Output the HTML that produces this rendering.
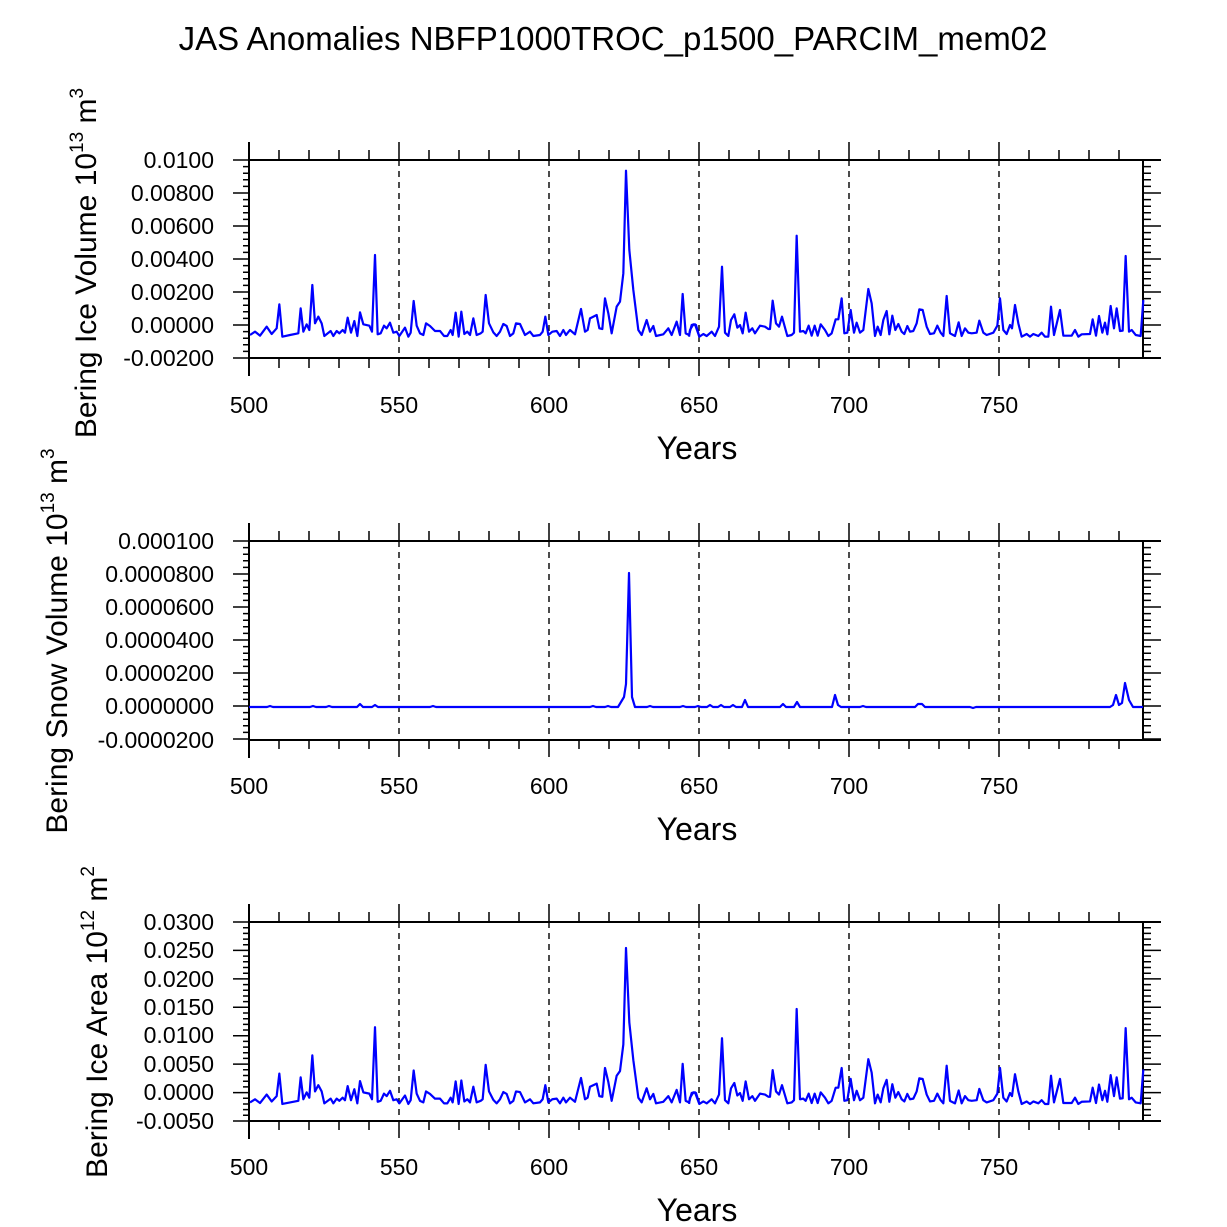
<!DOCTYPE html>
<html><head><meta charset="utf-8"><style>
html,body{margin:0;padding:0;background:#fff;}
svg{display:block;font-family:"Liberation Sans",sans-serif;}
</style></head><body>
<svg width="1227" height="1227" viewBox="0 0 1227 1227" xmlns="http://www.w3.org/2000/svg">
<defs>
<g id="series1" fill="none" stroke="#0000ff" stroke-width="2.2" stroke-linejoin="round">
<polyline vector-effect="non-scaling-stroke" transform="translate(240,150) scale(0.33333)" points="30,555 45,545 60,557 80,530 95,552 110,535 118,463 127,560 150,555 175,550 182,475 190,545 200,523 208,540 217,405 225,520 235,500 245,520 253,558 272,543 280,558 290,543 298,550 308,540 315,548 323,503 333,548 343,513 352,558 360,487 370,523 388,527 396,545 405,315 413,553 422,550 432,527 440,535 450,518 460,548 470,545 478,558 495,533 505,560 512,548 521,453 530,527 540,550 550,555 558,520 570,528 585,543 600,543 612,558 622,558 632,540 638,555 647,488 656,560 664,485 673,552 682,545 690,555 700,505 710,555 722,550 728,545 737,435 747,520 760,547 770,558 780,545 790,522 800,528 810,558 820,550 828,520 840,522 855,555 870,545 880,558 900,555 908,545 916,500 925,555 937,545 950,543 960,558 970,540 978,555 990,540 1005,553 1023,477 1035,545 1043,540 1050,505 1070,495 1078,535 1087,537 1095,445 1105,490 1115,550 1130,470 1140,455 1150,370 1158,62 1168,300 1180,420 1195,540 1205,555 1220,510 1230,545 1240,528 1248,558 1270,553 1285,535 1295,555 1310,515 1320,555 1328,432 1337,550 1347,555 1355,525 1365,523 1378,560"/>
<polyline vector-effect="non-scaling-stroke" transform="translate(690,150) scale(0.33333)" points="-3,560 0,540 10,523 18,525 28,560 40,552 50,558 65,545 75,558 87,530 96,350 105,548 115,558 123,510 133,493 142,533 150,525 158,550 167,488 177,545 187,535 195,550 210,527 225,530 235,537 240,537 248,452 258,520 267,530 276,500 292,558 305,555 312,548 320,257 330,545 340,543 347,550 356,527 365,557 374,527 383,557 392,523 405,540 415,558 425,550 437,508 445,508 455,445 463,550 472,548 482,480 492,548 500,518 510,548 520,540 535,417 545,460 555,558 563,530 572,555 580,510 590,483 598,553 607,497 616,540 625,522 635,545 643,552 652,528 660,545 670,543 680,520 688,478 698,480 710,530 720,552 732,550 742,527 752,548 760,558 770,438 780,550 795,558 806,517 815,558 825,535 835,548 845,550 860,548 868,512 880,548 890,555 910,548 922,527 930,445 940,540 950,552 960,525 966,535 975,465 985,520 995,560 1010,552 1020,560 1030,552 1045,558 1055,548 1065,560 1075,560 1083,470 1092,555 1110,480 1120,557 1145,557 1155,540 1165,560 1175,553 1200,552 1208,508 1218,557 1227,498 1237,548 1245,518 1252,553 1262,468 1272,535 1280,475 1290,543 1298,542 1307,318 1317,545 1325,540 1337,555 1352,558 1360,450"/>
</g>
</defs>

<text x="613" y="50" font-size="33" text-anchor="middle">JAS Anomalies NBFP1000TROC_p1500_PARCIM_mem02</text>

<g stroke="#000" fill="none">
  <line x1="249" y1="160" x2="1161" y2="160" stroke-width="2"/>
  <line x1="249" y1="358" x2="1161" y2="358" stroke-width="2"/>
  <line x1="249" y1="142" x2="249" y2="376" stroke-width="2"/>
  <line x1="1143" y1="160" x2="1143" y2="358" stroke-width="2"/>
  <line x1="249" y1="541" x2="1161" y2="541" stroke-width="2"/>
  <line x1="249" y1="740" x2="1161" y2="740" stroke-width="2"/>
  <line x1="249" y1="523" x2="249" y2="758" stroke-width="2"/>
  <line x1="1143" y1="541" x2="1143" y2="740" stroke-width="2"/>
  <line x1="249" y1="922" x2="1161" y2="922" stroke-width="2"/>
  <line x1="249" y1="1121" x2="1161" y2="1121" stroke-width="2"/>
  <line x1="249" y1="904" x2="249" y2="1139" stroke-width="2"/>
  <line x1="1143" y1="922" x2="1143" y2="1121" stroke-width="2"/>
</g>

<g stroke="#000" stroke-width="1.5" id="xt">
  <path d="M279 160v-10M309 160v-10M339 160v-10M369 160v-10M399 160v-18M429 160v-10M459 160v-10M489 160v-10M519 160v-10M549 160v-18M579 160v-10M609 160v-10M639 160v-10M669 160v-10M699 160v-18M729 160v-10M759 160v-10M789 160v-10M819 160v-10M849 160v-18M879 160v-10M909 160v-10M939 160v-10M969 160v-10M999 160v-18M1029 160v-10M1059 160v-10M1089 160v-10M1119 160v-10
  M279 358v10M309 358v10M339 358v10M369 358v10M399 358v18M429 358v10M459 358v10M489 358v10M519 358v10M549 358v18M579 358v10M609 358v10M639 358v10M669 358v10M699 358v18M729 358v10M759 358v10M789 358v10M819 358v10M849 358v18M879 358v10M909 358v10M939 358v10M969 358v10M999 358v18M1029 358v10M1059 358v10M1089 358v10M1119 358v10"/>
</g>
<use href="#xt" transform="translate(0,381)"/>
<use href="#xt" transform="translate(0,762)"/>

<g stroke="#000" stroke-width="1.4" stroke-dasharray="6,5">
  <path d="M399 160V358M549 160V358M699 160V358M849 160V358M999 160V358"/>
  <path d="M399 541V740M549 541V740M699 541V740M849 541V740M999 541V740"/>
  <path d="M399 922V1121M549 922V1121M699 922V1121M849 922V1121M999 922V1121"/>
</g>

<g stroke="#000" stroke-width="1.5" id="yt12">
  <path d="M249 160h-16M249 193h-16M249 226h-16M249 259h-16M249 292h-16M249 325h-16M249 358h-16
  M249 166.6h-6M249 173.2h-6M249 179.8h-6M249 186.4h-6M249 199.6h-6M249 206.2h-6M249 212.8h-6M249 219.4h-6M249 232.6h-6M249 239.2h-6M249 245.8h-6M249 252.4h-6M249 265.6h-6M249 272.2h-6M249 278.8h-6M249 285.4h-6M249 298.6h-6M249 305.2h-6M249 311.8h-6M249 318.4h-6M249 331.6h-6M249 338.2h-6M249 344.8h-6M249 351.4h-6
  M1143 160h18M1143 193h18M1143 226h18M1143 259h18M1143 292h18M1143 325h18M1143 358h18
  M1143 166.6h8M1143 173.2h8M1143 179.8h8M1143 186.4h8M1143 199.6h8M1143 206.2h8M1143 212.8h8M1143 219.4h8M1143 232.6h8M1143 239.2h8M1143 245.8h8M1143 252.4h8M1143 265.6h8M1143 272.2h8M1143 278.8h8M1143 285.4h8M1143 298.6h8M1143 305.2h8M1143 311.8h8M1143 318.4h8M1143 331.6h8M1143 338.2h8M1143 344.8h8M1143 351.4h8"/>
</g>
<use href="#yt12" transform="translate(0,381)"/>
<g stroke="#000" stroke-width="1.5">
  <path d="M249 922h-16M249 950.4h-16M249 978.9h-16M249 1007.3h-16M249 1035.7h-16M249 1064.1h-16M249 1092.6h-16M249 1121h-16
  M1143 922h18M1143 950.4h18M1143 978.9h18M1143 1007.3h18M1143 1035.7h18M1143 1064.1h18M1143 1092.6h18M1143 1121h18
  M249 927.7h-6M249 933.4h-6M249 939.1h-6M249 944.7h-6M249 956.1h-6M249 961.8h-6M249 967.5h-6M249 973.2h-6M249 984.6h-6M249 990.3h-6M249 996h-6M249 1001.6h-6M249 1013h-6M249 1018.7h-6M249 1024.4h-6M249 1030h-6M249 1041.4h-6M249 1047.1h-6M249 1052.8h-6M249 1058.4h-6M249 1069.8h-6M249 1075.5h-6M249 1081.2h-6M249 1086.9h-6M249 1098.3h-6M249 1104h-6M249 1109.6h-6M249 1115.3h-6
  M1143 927.7h8M1143 933.4h8M1143 939.1h8M1143 944.7h8M1143 956.1h8M1143 961.8h8M1143 967.5h8M1143 973.2h8M1143 984.6h8M1143 990.3h8M1143 996h8M1143 1001.6h8M1143 1013h8M1143 1018.7h8M1143 1024.4h8M1143 1030h8M1143 1041.4h8M1143 1047.1h8M1143 1052.8h8M1143 1058.4h8M1143 1069.8h8M1143 1075.5h8M1143 1081.2h8M1143 1086.9h8M1143 1098.3h8M1143 1104h8M1143 1109.6h8M1143 1115.3h8"/>
</g>

<g font-size="23" text-anchor="end">
  <text x="214" y="168">0.0100</text>
  <text x="214" y="201">0.00800</text>
  <text x="214" y="234">0.00600</text>
  <text x="214" y="267">0.00400</text>
  <text x="214" y="300">0.00200</text>
  <text x="214" y="333">0.00000</text>
  <text x="214" y="366">-0.00200</text>
  <text x="214" y="549">0.000100</text>
  <text x="214" y="582">0.0000800</text>
  <text x="214" y="615">0.0000600</text>
  <text x="214" y="648">0.0000400</text>
  <text x="214" y="681">0.0000200</text>
  <text x="214" y="714">0.0000000</text>
  <text x="214" y="748">-0.0000200</text>
  <text x="214" y="930">0.0300</text>
  <text x="214" y="958">0.0250</text>
  <text x="214" y="987">0.0200</text>
  <text x="214" y="1015">0.0150</text>
  <text x="214" y="1043">0.0100</text>
  <text x="214" y="1072">0.0050</text>
  <text x="214" y="1100">0.0000</text>
  <text x="214" y="1129">-0.0050</text>
</g>

<g font-size="23" text-anchor="middle" id="xl">
  <text x="249" y="413">500</text>
  <text x="399" y="413">550</text>
  <text x="549" y="413">600</text>
  <text x="699" y="413">650</text>
  <text x="849" y="413">700</text>
  <text x="999" y="413">750</text>
  <text x="697" y="459" font-size="32">Years</text>
</g>
<use href="#xl" transform="translate(0,381)"/>
<use href="#xl" transform="translate(0,762)"/>

<text transform="translate(96,263) rotate(-90)" font-size="30" text-anchor="middle">Bering Ice Volume 10<tspan font-size="19" dy="-13">13</tspan><tspan dy="13"> m</tspan><tspan font-size="19" dy="-13">3</tspan></text>
<text transform="translate(67,641) rotate(-90)" font-size="30" text-anchor="middle">Bering Snow Volume 10<tspan font-size="19" dy="-13">13</tspan><tspan dy="13"> m</tspan><tspan font-size="19" dy="-13">3</tspan></text>
<text transform="translate(107,1022) rotate(-90)" font-size="30" text-anchor="middle">Bering Ice Area 10<tspan font-size="19" dy="-13">12</tspan><tspan dy="13"> m</tspan><tspan font-size="19" dy="-13">2</tspan></text>

<use href="#series1"/>
<use href="#series1" transform="translate(0,1093) scale(1,0.94) translate(0,-325)"/>

<polyline fill="none" stroke="#0000ff" stroke-width="2.2" stroke-linejoin="round" points="249,707 267,707 270,706 273,707 290,707 310,707 313,706 316,707 326,707 329,706 332,707 357,707 360,704 363,707 372,707 375,705 378,707 430,707 433,706 436,707 475,707 478,707 540,707 590,707 593,706 596,707 605,707 608,706 611,707 618,707 621,702 624,697 626,684 629,573 632,697 635,707 647,707 650,706 653,707 680,707 683,706 686,707 695,707 698,706 701,707 707,707 710,705 713,707 718,707 721,705 724,707 730,707 733,705 736,707 742,707 745,700 748,707 780,707 783,704 786,707 794,707 797,702 800,707 832,707 835,695 838,705 841,707 860,707 863,706 866,707 915,707 918,704 922,704 925,707 970,707 973,708 976,707 1100,707 1110,707 1113,705 1116,695 1119,705 1122,703 1125,683 1129,700 1133,707 1143,707"/>
</svg>
</body></html>
